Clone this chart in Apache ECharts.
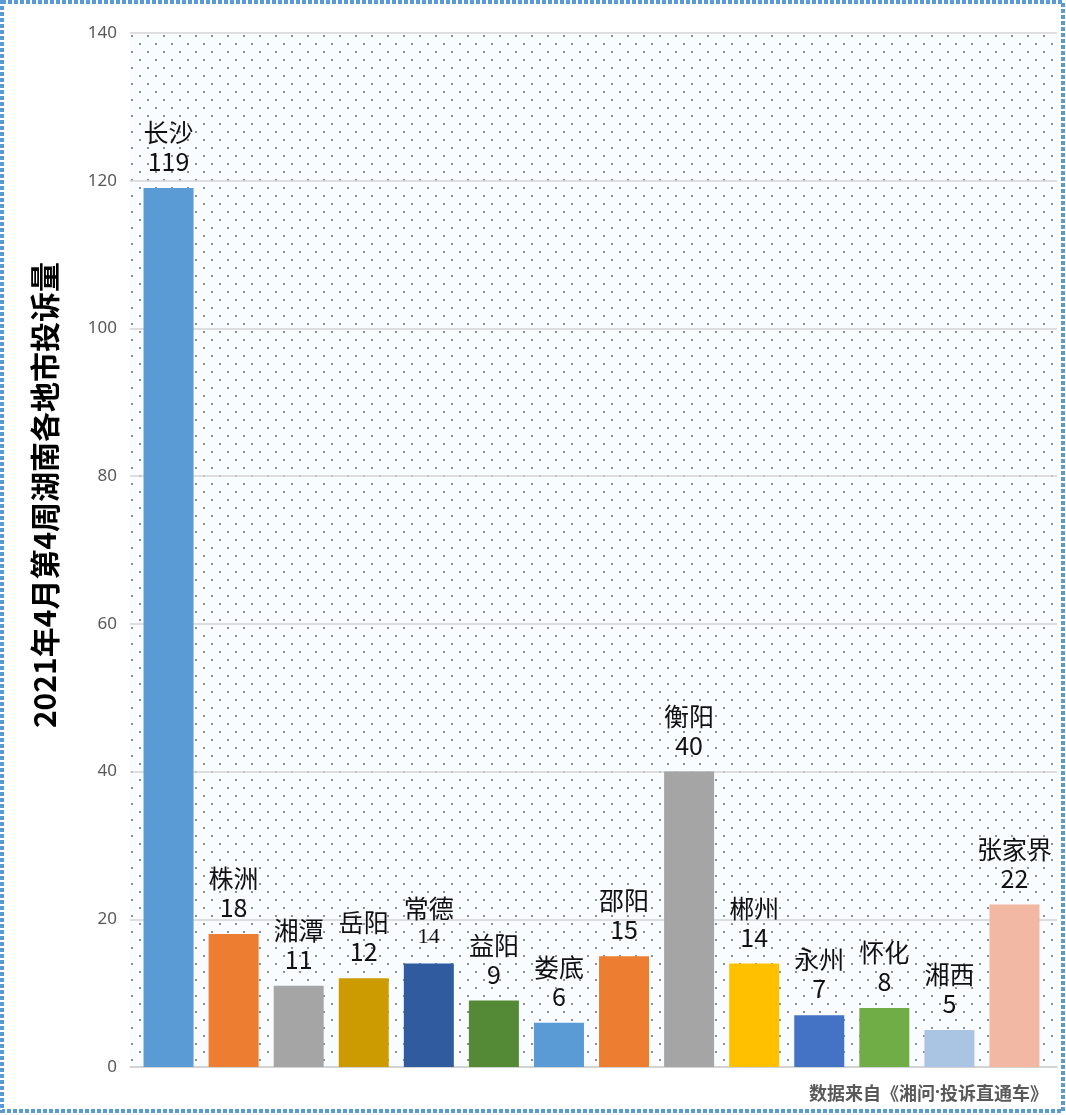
<!DOCTYPE html>
<html>
<head>
<meta charset="utf-8">
<script src="https://cdn.jsdelivr.net/npm/echarts@6/dist/echarts.min.js"></script>
<style>
html,body{margin:0;padding:0;background:#fff;}
#chart{width:1066px;height:1115px;}
</style>
</head>
<body>
<div id="chart"></div>
<script>
const categories = ['长沙','株洲','湘潭','岳阳','常德','益阳','娄底','邵阳','衡阳','郴州','永州','怀化','湘西','张家界'];
const values = [119,18,11,12,14,9,6,15,40,14,7,8,5,22];
const barColors = ['#5b9bd5','#ed7d31','#a5a5a5','#cc9b02','#305b9e','#548a35','#5b9bd5','#ed7d31','#a5a5a5','#ffc000','#4472c4','#70ad47','#aac4e4','#f3b8a3'];
const yTicks = [0,20,40,60,80,100,120,140];
const titleText = '2021年4月第4周湖南各地市投诉量';
const sourceA = '数据来自《湘问';
const sourceDot = '·';
const sourceB = '投诉直通车》';

// dotted background tile
const tile = document.createElement('canvas');
tile.width = 16; tile.height = 16;
const tc = tile.getContext('2d');
tc.fillStyle = '#f9fcff';
tc.fillRect(0,0,16,16);
tc.fillStyle = '#8a8f96';
tc.fillRect(3,3,2,2);
tc.fillRect(11,11,2,2);

const chart = echarts.init(document.getElementById('chart'), null, {renderer:'canvas'});
const option = {
  animation: false,
  backgroundColor: '#ffffff',
  grid: [
    {
      left: 130, right: 9, top: 33, bottom: 48,
      show: true,
      backgroundColor: {image: tile, repeat: 'repeat'},
      borderWidth: 0
    },
    {
      left: 136, right: 19, top: 33, bottom: 48
    }
  ],
  xAxis: [
    {
      gridIndex: 0, type: 'value', min: 0, max: 1, show: true,
      axisLine: {show: true, onZero: false, lineStyle: {color: '#d0d0d0', width: 1.5}},
      axisTick: {show: false}, axisLabel: {show: false}, splitLine: {show: false}
    },
    {
      gridIndex: 1, type: 'category', data: categories,
      axisLine: {show: false}, axisTick: {show: false}, axisLabel: {show: false}
    }
  ],
  yAxis: [
    {
      gridIndex: 0, type: 'value',
      min: 0, max: 140, interval: 20,
      axisLine: {show: false},
      axisTick: {show: false},
      axisLabel: {
        color: '#595959', fontSize: 17, fontFamily: 'Noto Sans, sans-serif', margin: 13,
        formatter: function(v){ return yTicks.indexOf(v) >= 0 ? String(v) : ''; }
      },
      splitLine: {lineStyle: {color: '#d4d4d4', width: 1.5}}
    },
    {
      gridIndex: 1, type: 'value', min: 0, max: 140, interval: 20, show: false,
      splitLine: {show: false}
    }
  ],
  series: [{
    type: 'bar',
    xAxisIndex: 1, yAxisIndex: 1,
    barWidth: 50,
    data: values.map(function(v, i){
      const item = {value: v, itemStyle: {color: barColors[i]}};
      if (categories[i] === '常德') {
        item.label = {formatter: '{n|{b}}\n{s|{c}}'};
      }
      return item;
    }),
    label: {
      show: true,
      position: 'top',
      distance: 12,
      formatter: '{n|{b}}\n{v|{c}}',
      rich: {
        n: {fontSize: 25, color: '#111', fontFamily: 'Noto Sans CJK SC', lineHeight: 29},
        v: {fontSize: 25, color: '#111', fontFamily: 'Noto Sans CJK SC', lineHeight: 29},
        s: {fontSize: 22, color: '#111', fontFamily: 'Liberation Serif, serif', lineHeight: 29}
      }
    }
  }],
  graphic: [
    {
      type: 'rect',
      shape: {x: 2, y: 2, width: 1061, height: 1109},
      style: {fill: 'none', stroke: '#5b9bd5', lineWidth: 4, lineDash: [4, 2]},
      silent: true
    },
    {
      type: 'text',
      x: 45, y: 495,
      rotation: Math.PI / 2,
      style: {
        text: titleText,
        fontSize: 30, fontWeight: 'bold', fill: '#000',
        fontFamily: 'Noto Sans CJK SC',
        textAlign: 'center', textVerticalAlign: 'middle'
      }
    },
    {
      type: 'text',
      x: 1048, y: 1093,
      style: {
        text: '{a|' + sourceA + '}{d|' + sourceDot + '}{a|' + sourceB + '}',
        rich: {
          a: {fontSize: 18, fontWeight: 'bold', fill: '#595959', fontFamily: 'Noto Sans CJK SC'},
          d: {fontSize: 18, fontWeight: 'bold', fill: '#595959', fontFamily: 'Noto Sans'}
        },
        textAlign: 'right', textVerticalAlign: 'middle'
      }
    }
  ]
};
chart.setOption(option);
</script>
</body>
</html>
